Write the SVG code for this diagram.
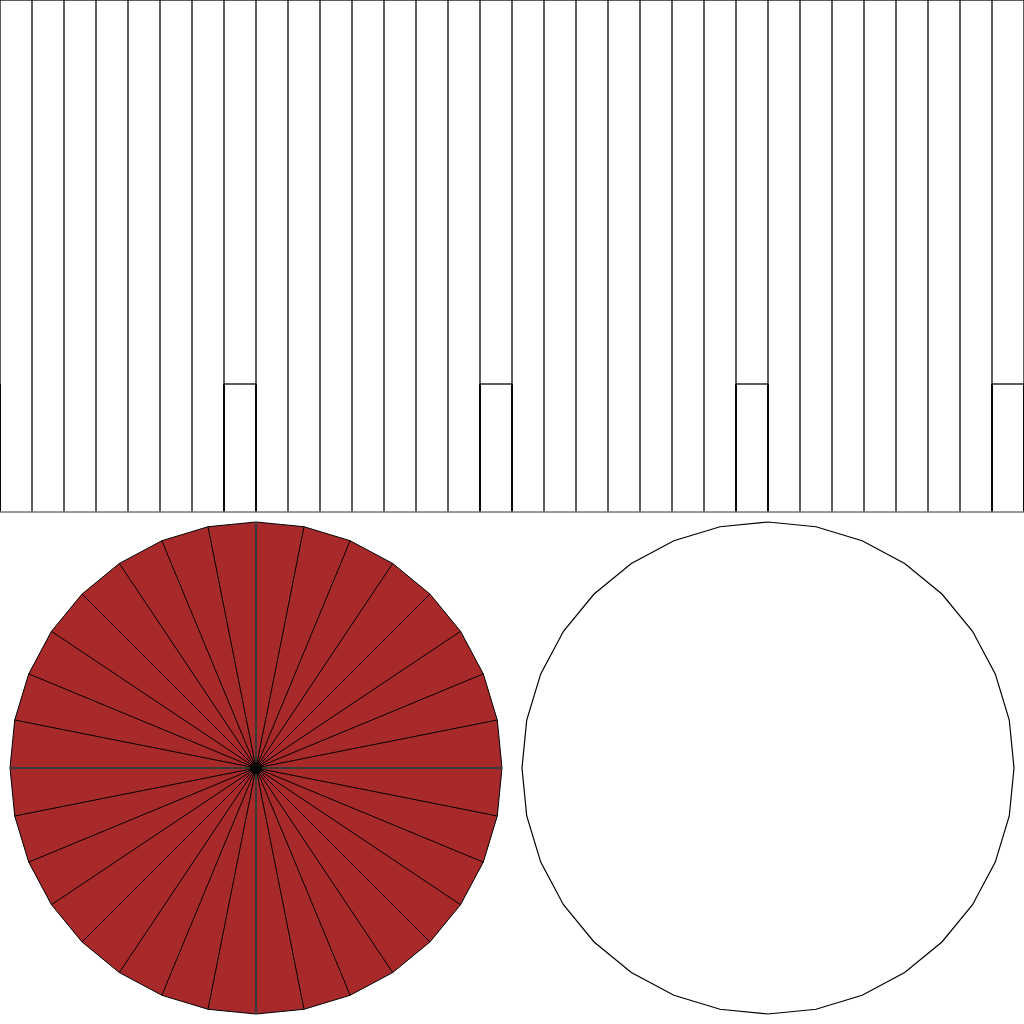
<svg xmlns="http://www.w3.org/2000/svg" width="1024" height="1024" viewBox="0 0 1024 1024">
<style>
.grid{stroke:#2a2a2a;stroke-width:1.5;fill:none}
.dark{stroke:#000;stroke-width:1.8;fill:none}
.edge{stroke:#777;stroke-width:1.5;fill:none}
.spoke{stroke:#000;stroke-width:1;fill:none}
.axis{stroke:#3a3a3a;stroke-width:2;fill:none}
</style>
<rect width="1024" height="1024" fill="#fff"/>
<g id="side">
<path class="grid" d="M0 0V512M32 0V512M64 0V512M96 0V512M128 0V512M160 0V512M192 0V512M224 0V512M256 0V512M288 0V512M320 0V512M352 0V512M384 0V512M416 0V512M448 0V512M480 0V512M512 0V512M544 0V512M576 0V512M608 0V512M640 0V512M672 0V512M704 0V512M736 0V512M768 0V512M800 0V512M832 0V512M864 0V512M896 0V512M928 0V512M960 0V512M992 0V512M1024 0V512"/>
<path class="grid" d="M0 0H1024M224 384H256M480 384H512M736 384H768M992 384H1024"/>
<path class="dark" d="M0 384V512M224 384V512M256 384V512M480 384V512M512 384V512M736 384V512M768 384V512M992 384V512M1024 384V512"/>
<path class="edge" d="M0 512H1024"/>
</g>
<g id="cap-red">
<polygon fill="#a82929" stroke="#000" stroke-width="1" points="502,768 497.27,815.99 483.27,862.14 460.54,904.67 429.95,941.95 392.67,972.54 350.14,995.27 303.99,1009.27 256,1014 208.01,1009.27 161.86,995.27 119.33,972.54 82.05,941.95 51.46,904.67 28.73,862.14 14.73,815.99 10,768 14.73,720.01 28.73,673.86 51.46,631.33 82.05,594.05 119.33,563.46 161.86,540.73 208.01,526.73 256,522 303.99,526.73 350.14,540.73 392.67,563.46 429.95,594.05 460.54,631.33 483.27,673.86 497.27,720.01"/>
<path class="spoke" d="M256 768L497.27 815.99M256 768L483.27 862.14M256 768L460.54 904.67M256 768L429.95 941.95M256 768L392.67 972.54M256 768L350.14 995.27M256 768L303.99 1009.27M256 768L208.01 1009.27M256 768L161.86 995.27M256 768L119.33 972.54M256 768L82.05 941.95M256 768L51.46 904.67M256 768L28.73 862.14M256 768L14.73 815.99M256 768L14.73 720.01M256 768L28.73 673.86M256 768L51.46 631.33M256 768L82.05 594.05M256 768L119.33 563.46M256 768L161.86 540.73M256 768L208.01 526.73M256 768L303.99 526.73M256 768L350.14 540.73M256 768L392.67 563.46M256 768L429.95 594.05M256 768L460.54 631.33M256 768L483.27 673.86M256 768L497.27 720.01"/>
<path class="axis" d="M10 768H502M256 522V1014"/>
<circle cx="256" cy="768" r="6" fill="#000"/>
</g>
<g id="cap-white">
<polygon fill="#fff" stroke="#000" stroke-width="1.2" points="1014,768 1009.27,815.99 995.27,862.14 972.54,904.67 941.95,941.95 904.67,972.54 862.14,995.27 815.99,1009.27 768,1014 720.01,1009.27 673.86,995.27 631.33,972.54 594.05,941.95 563.46,904.67 540.73,862.14 526.73,815.99 522,768 526.73,720.01 540.73,673.86 563.46,631.33 594.05,594.05 631.33,563.46 673.86,540.73 720.01,526.73 768,522 815.99,526.73 862.14,540.73 904.67,563.46 941.95,594.05 972.54,631.33 995.27,673.86 1009.27,720.01"/>
</g>
</svg>
